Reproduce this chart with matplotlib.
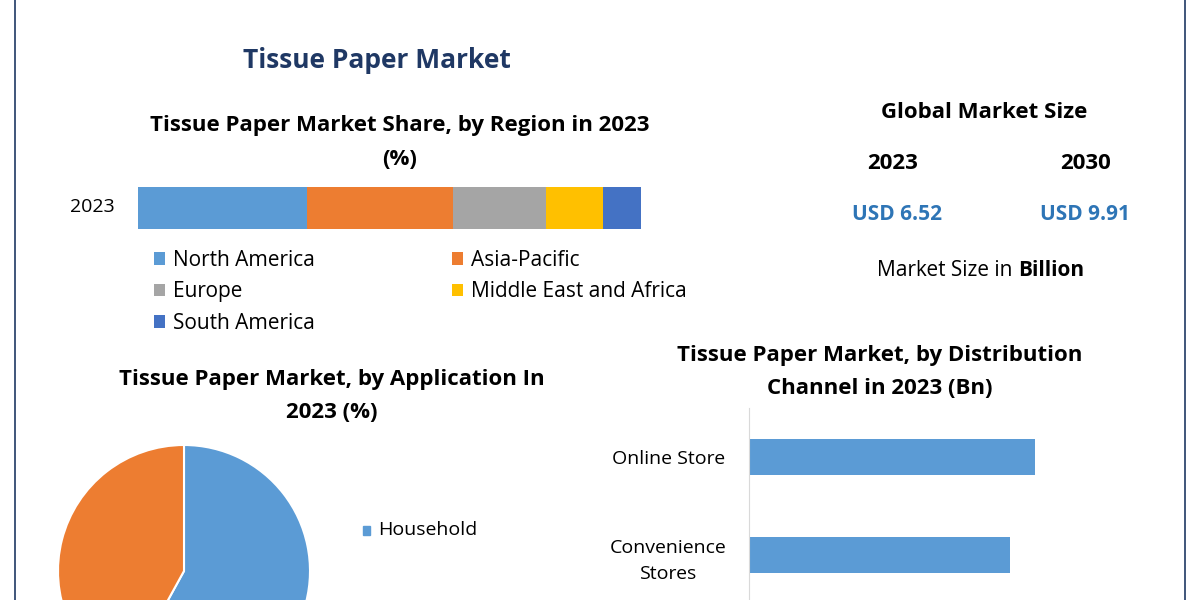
import matplotlib
matplotlib.use("Agg")
import matplotlib.pyplot as plt
from matplotlib.patches import Rectangle

plt.rcParams["font.family"] = "Open Sans"

regions = ["North America", "Asia-Pacific", "Europe", "Middle East and Africa", "South America"]
region_share = [33.6, 29.0, 18.5, 11.3, 7.6]
region_colors = ["#5b9bd5", "#ed7d31", "#a5a5a5", "#ffc000", "#4472c4"]

channels = ["Online Store", "Convenience\nStores"]
channel_values = [2.3, 2.1]

applications = ["Household", "Commercial"]
app_share = [58, 42]

W, H = 1200, 600
fig = plt.figure(figsize=(12, 6), dpi=100)
fig.patch.set_facecolor("white")

def px(x0, y0, x1, y1):
    return [x0 / W, 1 - y1 / H, (x1 - x0) / W, (y1 - y0) / H]

def ftext(x, y, s, **kw):
    kw.setdefault("ha", "center")
    kw.setdefault("va", "center")
    return fig.text(x / W, 1 - y / H, s, **kw)

# frame
fig.add_artist(Rectangle((15 / W, -0.1), 1170 / W, 1.2, transform=fig.transFigure,
                         fill=False, edgecolor="#1f3864", lw=1.2))

ftext(377, 60, "Tissue Paper Market", fontsize=19, fontweight="bold", color="#1f3864")

# region stacked bar
ftext(400, 126, "Tissue Paper Market Share, by Region in 2023", fontsize=16, fontweight="bold")
ftext(400, 160, "(%)", fontsize=16, fontweight="bold")
ax1 = fig.add_axes(px(138, 170, 641, 246))
left = 0
for name, v, c in zip(regions, region_share, region_colors):
    ax1.barh([0], [v], left=left, height=0.55, color=c, label=name)
    left += v
ax1.set_xlim(0, sum(region_share))
ax1.set_ylim(-0.5, 0.5)
ax1.axis("off")
ftext(92, 207, "2023", fontsize=14)
# row-major legend ordering for 2 columns
h, l = ax1.get_legend_handles_labels()
order = [0, 2, 4, 1, 3]
ax1.legend([h[i] for i in order], [l[i] for i in order], loc="upper left",
           bbox_to_anchor=(0.015, 0.06), ncol=2, frameon=False,
           fontsize=15, handlelength=0.55, handleheight=0.55, columnspacing=6.6,
           labelspacing=0.5, handletextpad=0.35, borderaxespad=0)

# global market size
ftext(984, 112, "Global Market Size", fontsize=16, fontweight="bold")
ftext(893, 163, "2023", fontsize=16, fontweight="bold")
ftext(1086, 163, "2030", fontsize=16, fontweight="bold")
ftext(897, 214, "USD 6.52", fontsize=15, fontweight="bold", color="#2e75b6")
ftext(1085, 214, "USD 9.91", fontsize=15, fontweight="bold", color="#2e75b6")
t = ftext(877, 271, "Market Size in", ha="left", fontsize=15)
fig.canvas.draw()
bb = t.get_window_extent()
fig.text(bb.x1 / W + 6 / W, 1 - 271 / H, "Billion", ha="left", va="center", fontsize=15, fontweight="bold")

# application pie
ftext(332, 380, "Tissue Paper Market, by Application In", fontsize=16, fontweight="bold")
ftext(332, 413, "2023 (%)", fontsize=16, fontweight="bold")
ax2 = fig.add_axes(px(58, 445, 310, 697))
ax2.pie(app_share, colors=["#5b9bd5", "#ed7d31"], startangle=90, counterclock=False,
        wedgeprops=dict(edgecolor="white", linewidth=1.5))
ax2.set_xlim(-1, 1)
ax2.set_ylim(-1, 1)
ax2.set_aspect("equal")
fig.patches.append(Rectangle((363 / W, 1 - 535 / H), 7 / W, 9 / H,
                             transform=fig.transFigure, color="#5b9bd5"))
ftext(378, 530, applications[0], ha="left", fontsize=14)

# distribution channel bars
ftext(880, 355, "Tissue Paper Market, by Distribution", fontsize=16, fontweight="bold")
ftext(880, 389, "Channel in 2023 (Bn)", fontsize=16, fontweight="bold")
ax3 = fig.add_axes(px(749, 408, 1100, 751))
ypos = list(range(len(channels)))
ax3.barh(ypos, channel_values, height=0.36, color="#5b9bd5")
ax3.set_ylim(3.0, -0.5)
ax3.set_xlim(0, 2.82)
ax3.set_yticks(ypos)
ax3.set_yticklabels(channels, fontsize=14, ha="center", linespacing=1.6)
ax3.tick_params(axis="y", length=0, pad=58)
ax3.set_xticks([])
for s in ["top", "right", "bottom"]:
    ax3.spines[s].set_visible(False)
ax3.spines["left"].set_color("#d9d9d9")

fig.savefig("out.png", dpi=100)
